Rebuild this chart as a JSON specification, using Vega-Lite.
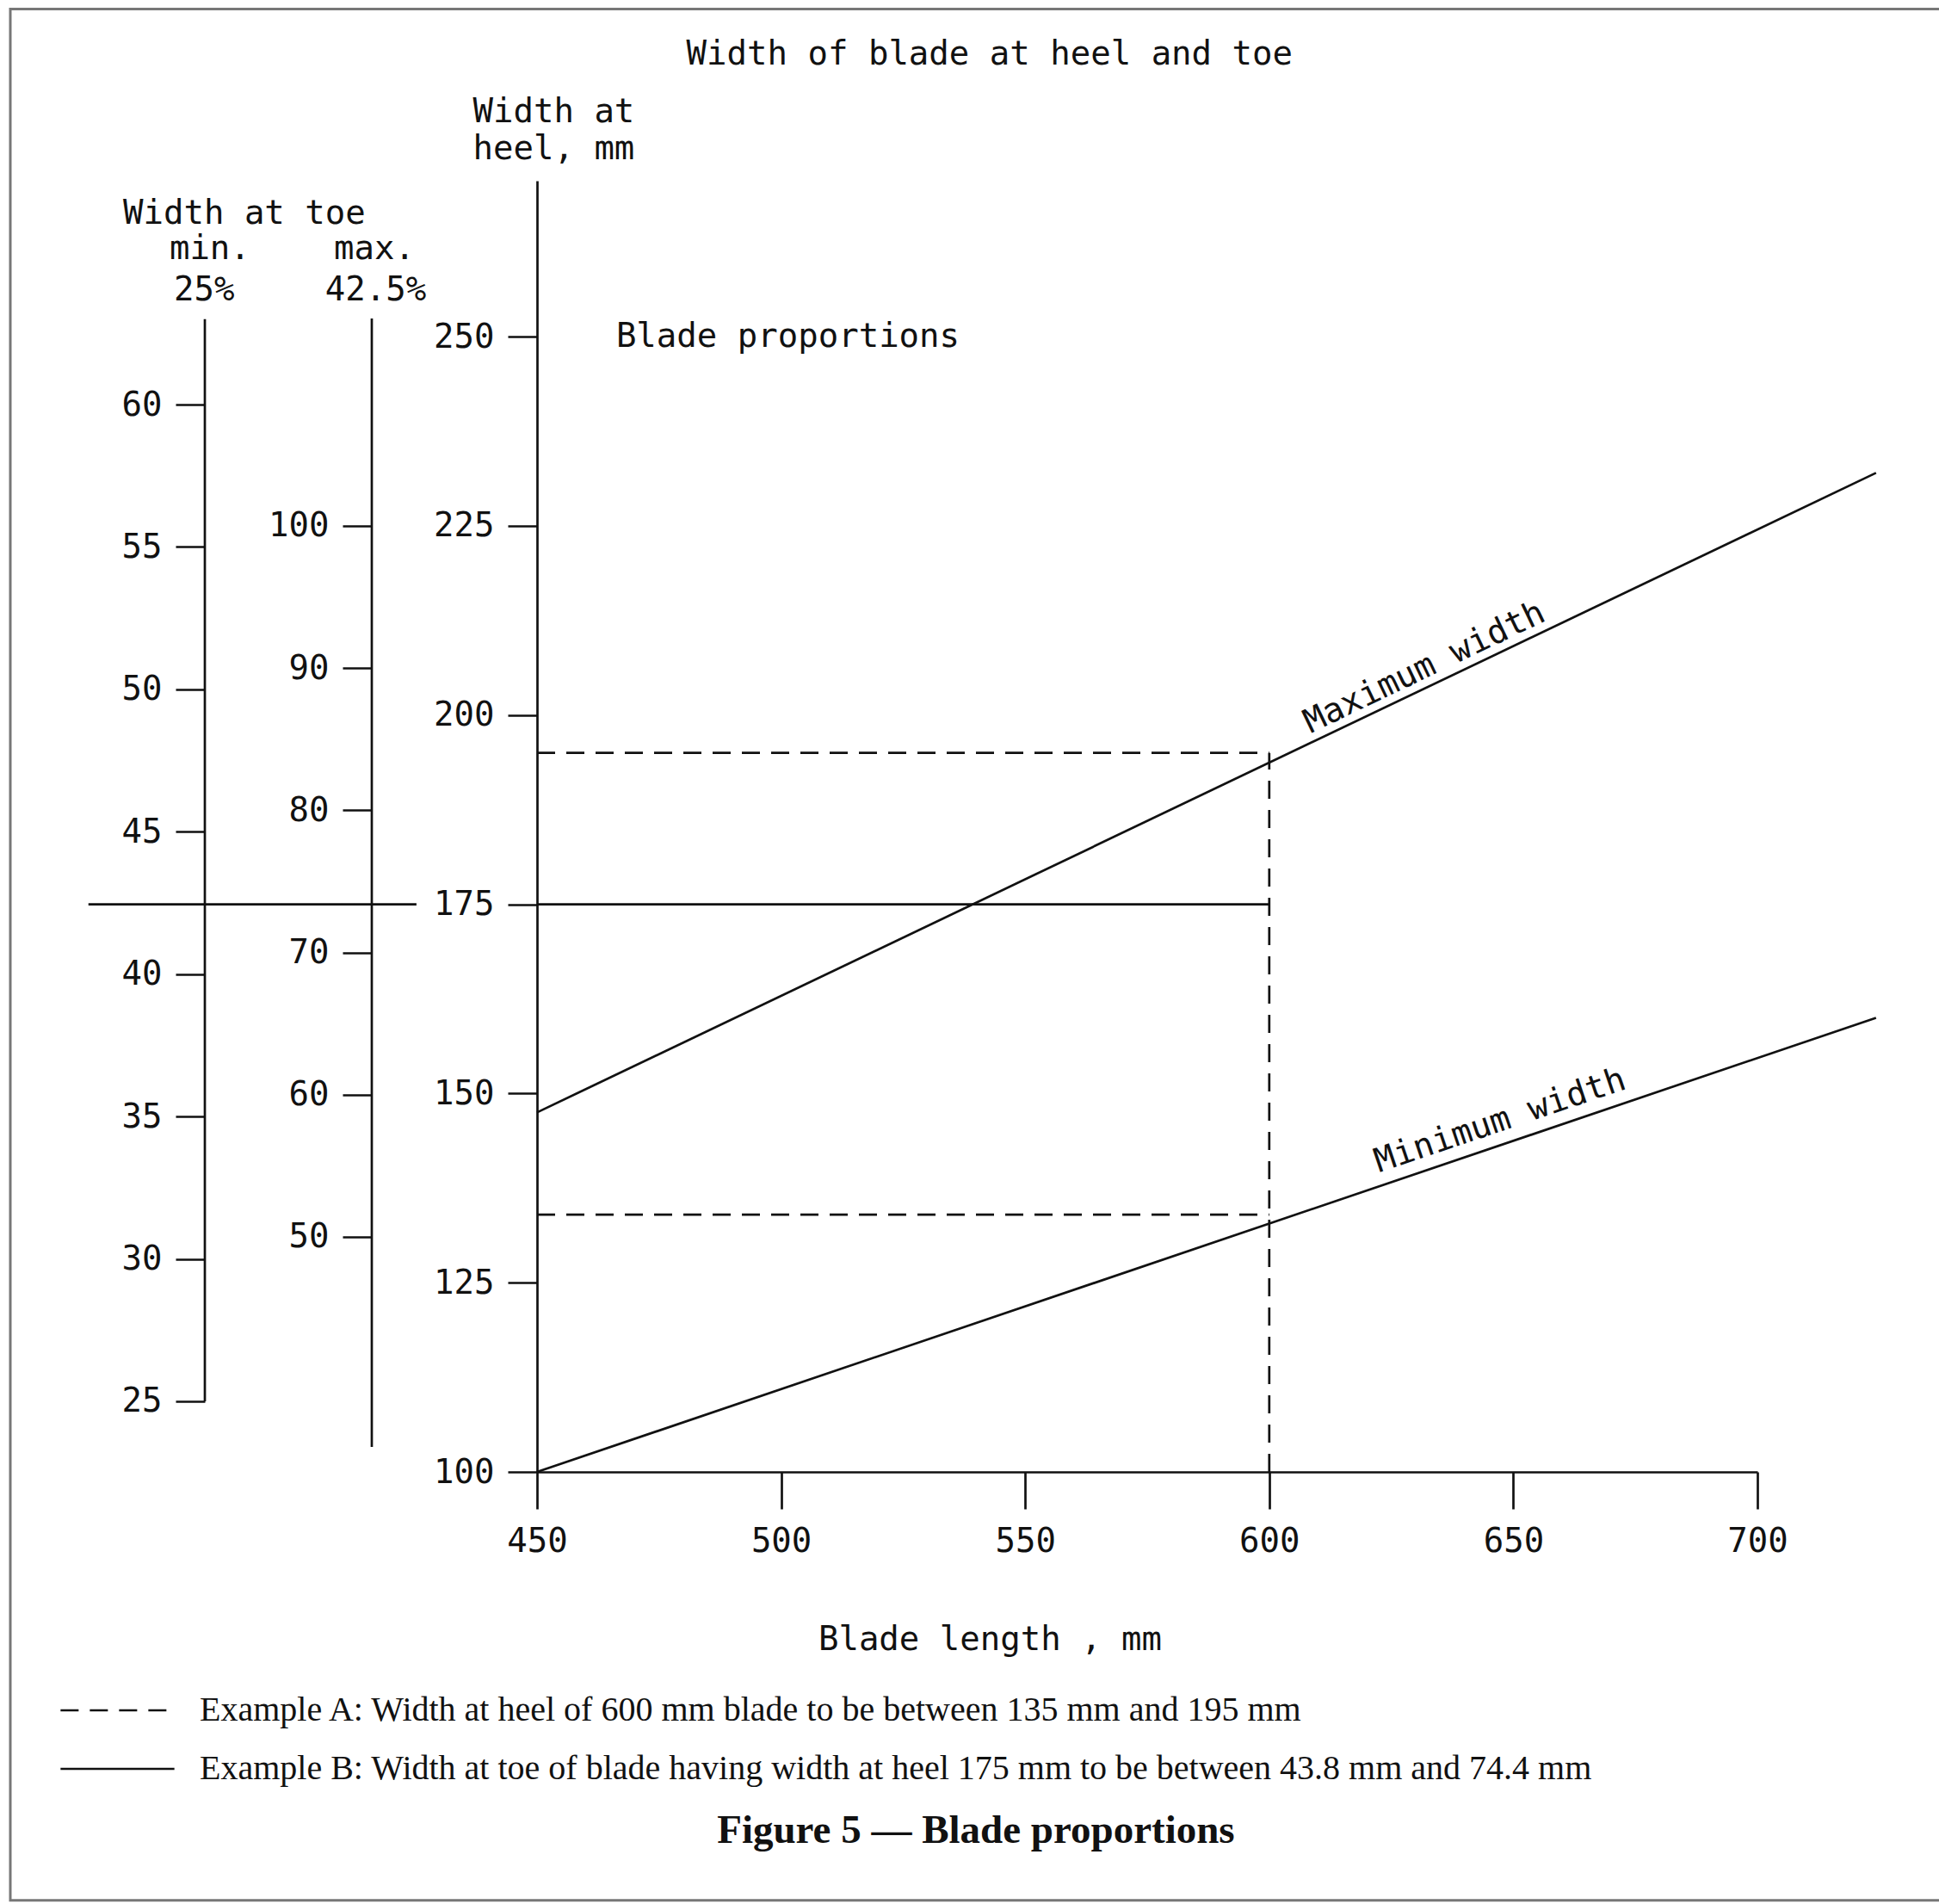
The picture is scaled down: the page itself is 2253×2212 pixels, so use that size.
{
  "$schema": "https://vega.github.io/schema/vega-lite/v6.json",
  "autosize": {"type": "none"},
  "width": 1418,
  "height": 1500,
  "padding": {"left": 624, "top": 210, "right": 211, "bottom": 502},
  "background": "#ffffff",
  "config": {
    "view": {"stroke": null},
    "font": "DejaVu Sans Mono",
    "axis": {
      "grid": false,
      "domainColor": "#111111",
      "domainWidth": 2.7,
      "tickColor": "#111111",
      "tickWidth": 2.7,
      "labelColor": "#111111",
      "labelFont": "DejaVu Sans Mono",
      "labelFontSize": 39,
      "labelFlush": false,
      "labelOverlap": false,
      "titleColor": "#111111",
      "titleFont": "DejaVu Sans Mono",
      "titleFontSize": 39,
      "titleFontWeight": "normal"
    }
  },
  "layer": [
    {
      "layer": [
        {
          "data": {"values": [{"element": "page frame"}]},
          "mark": {"type": "rect", "fill": null, "stroke": "#777777", "strokeWidth": 3},
          "encoding": {
            "x": {"datum": 342.1, "type": "quantitative", "scale": {"domain": [450, 700], "nice": false, "zero": false}},
            "x2": {"datum": 745},
            "y": {"datum": 293.3, "type": "quantitative", "scale": {"domain": [100, 270.6], "nice": false, "zero": false}},
            "y2": {"datum": 43.4}
          }
        },
        {
          "data": {"values": [
            {"series": "Maximum width", "length": 450, "heel": 147.5},
            {"series": "Maximum width", "length": 724.3, "heel": 232},
            {"series": "Minimum width", "length": 450, "heel": 100},
            {"series": "Minimum width", "length": 724.3, "heel": 160}
          ]},
          "mark": {"type": "line", "stroke": "#111111", "strokeWidth": 2.7},
          "encoding": {
            "x": {"field": "length", "type": "quantitative",
              "scale": {"domain": [450, 700], "nice": false, "zero": false},
              "axis": {
                "values": [450, 500, 550, 600, 650, 700],
                "tickSize": 43,
                "labelPadding": 18,
                "title": "Blade length , mm",
                "titleX": 526,
                "titleY": 194,
                "titleAlign": "center",
                "titleBaseline": "middle"
              }},
            "y": {"field": "heel", "type": "quantitative",
              "scale": {"domain": [100, 270.6], "nice": false, "zero": false},
              "axis": {
                "orient": "left",
                "values": [100, 125, 150, 175, 200, 225, 250],
                "tickSize": 34,
                "labelPadding": 16,
                "title": ["Width at", "heel, mm"],
                "titleAngle": 0,
                "titleX": -75,
                "titleY": -81,
                "titleAlign": "left",
                "titleBaseline": "middle",
                "titleLineHeight": 43
              }},
            "detail": {"field": "series"}
          }
        },
        {
          "data": {"values": [
            {"example": "Example A: Width at heel of 600 mm blade to be between 135 mm and 195 mm", "x1": 450, "x2": 600, "y1": 195, "y2": 195},
            {"example": "Example A: Width at heel of 600 mm blade to be between 135 mm and 195 mm", "x1": 600, "x2": 600, "y1": 100, "y2": 195},
            {"example": "Example A: Width at heel of 600 mm blade to be between 135 mm and 195 mm", "x1": 450, "x2": 600, "y1": 134, "y2": 134},
            {"example": "Example B: Width at toe of blade having width at heel 175 mm to be between 43.8 mm and 74.4 mm", "x1": 358.1, "x2": 425.3, "y1": 175, "y2": 175},
            {"example": "Example B: Width at toe of blade having width at heel 175 mm to be between 43.8 mm and 74.4 mm", "x1": 450, "x2": 600, "y1": 175, "y2": 175}
          ]},
          "mark": {"type": "rule", "stroke": "#111111", "strokeWidth": 2.7},
          "encoding": {
            "x": {"field": "x1", "type": "quantitative", "scale": {"domain": [450, 700], "nice": false, "zero": false}},
            "x2": {"field": "x2"},
            "y": {"field": "y1", "type": "quantitative", "scale": {"domain": [100, 270.6], "nice": false, "zero": false}},
            "y2": {"field": "y2"},
            "strokeDash": {"field": "example", "type": "nominal",
              "scale": {
                "domain": [
                  "Example A: Width at heel of 600 mm blade to be between 135 mm and 195 mm",
                  "Example B: Width at toe of blade having width at heel 175 mm to be between 43.8 mm and 74.4 mm"
                ],
                "range": [[21, 13], [1, 0]]
              },
              "legend": {
                "orient": "none",
                "legendX": -555,
                "legendY": 1753,
                "title": null,
                "padding": 0,
                "symbolType": "stroke",
                "symbolSize": 17500,
                "symbolStrokeWidth": 2.7,
                "symbolStrokeColor": "#111111",
                "labelFont": "Liberation Serif",
                "labelFontSize": 40,
                "labelColor": "#111111",
                "labelLimit": 0,
                "labelOffset": 28,
                "clipHeight": 48,
                "rowPadding": 20
              }}
          }
        },
        {
          "data": {"values": [
            {"label": "Width of blade at heel and toe", "length": 542.7, "heel": 287.3}
          ]},
          "mark": {"type": "text", "fontSize": 39, "align": "center", "baseline": "middle", "color": "#111111"},
          "encoding": {
            "x": {"field": "length", "type": "quantitative", "scale": {"domain": [450, 700], "nice": false, "zero": false}},
            "y": {"field": "heel", "type": "quantitative", "scale": {"domain": [100, 270.6], "nice": false, "zero": false}},
            "text": {"field": "label"}
          }
        },
        {
          "data": {"values": [
            {"label": "Width at toe", "length": 365.2, "heel": 266.3},
            {"label": "min.", "length": 374.7, "heel": 261.6},
            {"label": "max.", "length": 408.4, "heel": 261.6},
            {"label": "25%", "length": 375.6, "heel": 256.1},
            {"label": "42.5%", "length": 406.6, "heel": 256.1},
            {"label": "Blade proportions", "length": 466.2, "heel": 250}
          ]},
          "mark": {"type": "text", "fontSize": 39, "align": "left", "baseline": "middle", "color": "#111111"},
          "encoding": {
            "x": {"field": "length", "type": "quantitative", "scale": {"domain": [450, 700], "nice": false, "zero": false}},
            "y": {"field": "heel", "type": "quantitative", "scale": {"domain": [100, 270.6], "nice": false, "zero": false}},
            "text": {"field": "label"}
          }
        },
        {
          "data": {"values": [
            {"label": "Maximum width", "length": 631.8, "heel": 206.3}
          ]},
          "mark": {"type": "text", "fontSize": 39, "align": "center", "baseline": "middle", "angle": 334.4, "color": "#111111"},
          "encoding": {
            "x": {"field": "length", "type": "quantitative", "scale": {"domain": [450, 700], "nice": false, "zero": false}},
            "y": {"field": "heel", "type": "quantitative", "scale": {"domain": [100, 270.6], "nice": false, "zero": false}},
            "text": {"field": "label"}
          }
        },
        {
          "data": {"values": [
            {"label": "Minimum width", "length": 647.3, "heel": 146.4}
          ]},
          "mark": {"type": "text", "fontSize": 39, "align": "center", "baseline": "middle", "angle": 341.3, "color": "#111111"},
          "encoding": {
            "x": {"field": "length", "type": "quantitative", "scale": {"domain": [450, 700], "nice": false, "zero": false}},
            "y": {"field": "heel", "type": "quantitative", "scale": {"domain": [100, 270.6], "nice": false, "zero": false}},
            "text": {"field": "label"}
          }
        },
        {
          "data": {"values": [
            {"label": "Figure 5 — Blade proportions", "length": 539.9, "heel": 52.6}
          ]},
          "mark": {"type": "text", "font": "Liberation Serif", "fontWeight": "bold", "fontSize": 47, "align": "center", "baseline": "middle", "color": "#111111"},
          "encoding": {
            "x": {"field": "length", "type": "quantitative", "scale": {"domain": [450, 700], "nice": false, "zero": false}},
            "y": {"field": "heel", "type": "quantitative", "scale": {"domain": [100, 270.6], "nice": false, "zero": false}},
            "text": {"field": "label"}
          }
        }
      ]
    },
    {
      "data": {"values": [
        {"scale": "Width at toe, min. 25%", "length": 381.95, "low": 25, "high": 63.0}
      ]},
      "mark": {"type": "rule", "stroke": "#111111", "strokeWidth": 2.7},
      "encoding": {
        "x": {"field": "length", "type": "quantitative", "scale": {"domain": [450, 700], "nice": false, "zero": false}},
        "y": {"field": "low", "type": "quantitative",
          "scale": {"domain": [22.52, 67.86], "nice": false, "zero": false},
          "axis": {
            "orient": "left",
            "offset": 386,
            "domain": false,
            "values": [25, 30, 35, 40, 45, 50, 55, 60],
            "tickSize": 34,
            "labelPadding": 16,
            "title": null
          }},
        "y2": {"field": "high"}
      }
    },
    {
      "data": {"values": [
        {"scale": "Width at toe, max. 42.5%", "length": 416.15, "low": 35.23, "high": 114.59}
      ]},
      "mark": {"type": "rule", "stroke": "#111111", "strokeWidth": 2.7},
      "encoding": {
        "x": {"field": "length", "type": "quantitative", "scale": {"domain": [450, 700], "nice": false, "zero": false}},
        "y": {"field": "low", "type": "quantitative",
          "scale": {"domain": [33.47, 124.27], "nice": false, "zero": false},
          "axis": {
            "orient": "left",
            "offset": 192,
            "domain": false,
            "values": [50, 60, 70, 80, 90, 100],
            "tickSize": 34,
            "labelPadding": 16,
            "title": null
          }},
        "y2": {"field": "high"}
      }
    }
  ],
  "resolve": {"scale": {"y": "independent"}}
}
